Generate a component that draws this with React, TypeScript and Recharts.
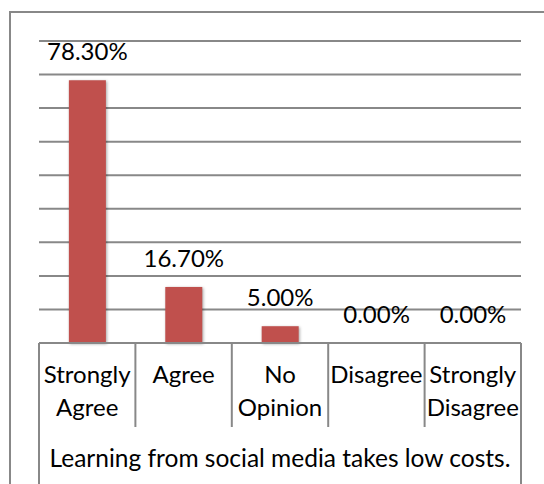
import React from 'react';
import { BarChart, Bar, XAxis, YAxis, CartesianGrid, LabelList } from 'recharts';

const CATEGORIES = ['Strongly Agree', 'Agree', 'No Opinion', 'Disagree', 'Strongly Disagree'];
const VALUES = [0.783, 0.167, 0.05, 0, 0];
const VALUE_LABELS = ['78.30%', '16.70%', '5.00%', '0.00%', '0.00%'];
const Y_TICKS = [0, 0.1, 0.2, 0.3, 0.4, 0.5, 0.6, 0.7, 0.8, 0.9];
const GROUP_LABEL = 'Learning from social media takes low costs.';

const data = CATEGORIES.map((c, i) => ({ name: c, value: VALUES[i], label: VALUE_LABELS[i] }));

const GRAY = '#888888';

const CategoryTick = (props: any) => {
  const { x, y, payload, index, visibleTicksCount } = props;
  const half = payload && payload.offset ? payload.offset : 48;
  const lines = String(payload.value).split(' ');
  const isFirst = index === 0;
  const isLast = index === (visibleTicksCount ?? CATEGORIES.length) - 1;
  return (
    <g>
      <line x1={x - half} y1={y} x2={x - half} y2={y + (isFirst ? 150 : 84)} stroke={GRAY} strokeWidth={2} />
      {isLast && <line x1={x + half} y1={y} x2={x + half} y2={y + 150} stroke={GRAY} strokeWidth={2} />}
      <text x={x} y={y} textAnchor="middle" fontSize={24} fill="#000">
        {lines.map((l, i) => (
          <tspan key={i} x={x} dy={i === 0 ? 40 : 33}>{l}</tspan>
        ))}
      </text>
    </g>
  );
};

const ShadowBar = (props: any) => {
  const { x, y, width, height, fill } = props;
  if (!height || height <= 0) return null;
  return (
    <rect x={x} y={y} width={width} height={height} fill={fill}
      style={{ filter: 'drop-shadow(1px 1px 1.5px rgba(0,0,0,0.35))' }} />
  );
};

export default function App() {
  return (
    <div style={{ position: 'absolute', left: 0, top: 0, width: 544, height: 484, overflow: 'hidden', background: '#fff', fontFamily: 'Lato, sans-serif' }}>
      <div style={{ position: 'absolute', left: 9, top: 11, width: 600, height: 600, border: `2px solid ${GRAY}`, boxSizing: 'border-box' }} />
      <div style={{ position: 'absolute', left: 0, top: 0 }}>
        <BarChart width={544} height={484} data={data} margin={{ top: 41, right: 23, bottom: 0, left: 39 }} barCategoryGap="31%">
          <CartesianGrid vertical={false} stroke={GRAY} strokeWidth={2} strokeDasharray="" />
          <YAxis hide domain={[0, 0.9]} ticks={Y_TICKS} width={0} />
          <XAxis dataKey="name" height={141} tickLine={false} tickSize={0} tickMargin={0} interval={0}
            axisLine={{ stroke: GRAY, strokeWidth: 2 }} tick={<CategoryTick />}
            label={{ value: GROUP_LABEL, position: 'insideBottom', offset: 17, fontSize: 24.5, fill: '#000' }} />
          <Bar dataKey="value" fill="#C0504D" isAnimationActive={false} shape={<ShadowBar />}>
            <LabelList dataKey="label" position="top" offset={20} fontSize={24} fill="#000" />
          </Bar>
        </BarChart>
      </div>
    </div>
  );
}
